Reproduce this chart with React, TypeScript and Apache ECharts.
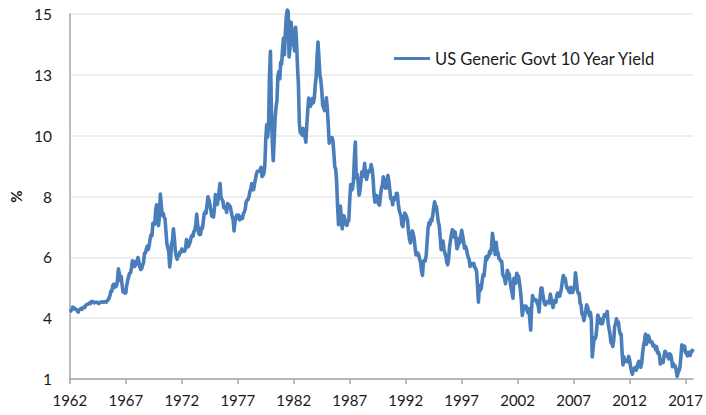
import React, { useEffect, useRef } from "react";
import * as echarts from "echarts";

// Monthly 10-year yield readings (%), first point at the "1962" tick, one point per month
const yields1962to1969 = [
  3.84, 3.87, 3.91, 4.01, 3.98, 3.98, 3.93, 3.92, 3.86,
  3.83, 3.92, 3.93, 3.97, 3.93, 3.99, 4.02, 4.0, 4.08, 4.11, 4.12, 4.13,
  4.17, 4.15, 4.22, 4.23, 4.2, 4.17, 4.19, 4.19, 4.2, 4.19, 4.15, 4.18,
  4.19, 4.21, 4.21, 4.2, 4.21, 4.21, 4.2, 4.25, 4.29, 4.35, 4.45, 4.62,
  4.61, 4.83, 4.87, 4.75, 4.78, 4.81, 5.02, 5.45, 5.3, 5.01, 5.16, 4.84,
  4.58, 4.63, 4.54, 4.55, 4.85, 5.02, 5.16, 5.28, 5.3, 5.48, 5.75, 5.7,
  5.53, 5.56, 5.74, 5.64, 5.87, 5.72, 5.5, 5.42, 5.46, 5.58, 5.7, 6.03,
  6.04, 6.19, 6.3, 6.17, 6.32, 6.57, 6.72, 6.69, 7.16, 7.1, 7.14, 7.65,
];
const yields1970s = [
  7.85, 7.24, 7.07, 7.39, 8.25, 7.84, 7.46, 7.53, 7.39, 7.33, 6.84, 6.39,
  6.24, 6.11, 5.52, 5.83, 6.39, 6.52, 6.95, 6.58, 6.14, 5.93, 5.81, 5.93,
  5.95, 6.08, 6.07, 6.19, 6.13, 6.11, 6.11, 6.21, 6.55, 6.48, 6.28, 6.36,
  6.46, 6.64, 6.71, 6.67, 6.85, 6.9, 7.13, 7.5, 7.09, 6.79, 6.73, 6.74,
  6.99, 6.96, 7.21, 7.51, 7.58, 7.54, 7.81, 8.15, 8.04, 7.9, 7.68, 7.43,
  7.5, 7.39, 7.73, 8.23, 8.06, 7.86, 8.06, 8.4, 8.65, 8.14, 8.05, 8.0,
  7.74, 7.79, 7.73, 7.56, 7.9, 7.86, 7.83, 7.77, 7.59, 7.41, 7.29, 6.87,
  7.21, 7.39, 7.46, 7.37, 7.46, 7.28, 7.33, 7.4, 7.34, 7.52, 7.58, 7.69,
  7.96, 8.03, 8.04, 8.15, 8.35, 8.46, 8.64, 8.41, 8.42, 8.64, 8.81, 9.01,
  9.1, 9.1, 9.12, 9.18, 9.25, 8.91, 8.95, 9.03, 9.33, 10.3, 10.85, 10.39,
];
const yields1980s = [
  10.8, 12.7, 13.6, 11.47, 10.18, 9.5, 10.25, 11.1, 11.51, 11.75, 12.68, 12.84,
  12.57, 13.19, 13.12, 13.68, 14.1, 13.47, 14.28, 14.9, 15.15, 15.1, 13.39, 13.72,
  14.7, 14.43, 13.86, 13.87, 13.62, 14.5, 13.95, 13.06, 12.34, 10.91, 10.55, 10.54,
  10.46, 10.72, 10.51, 10.4, 10.2, 10.85, 11.38, 11.85, 11.65, 11.54, 11.69, 11.83,
  11.67, 11.84, 12.32, 12.63, 13.41, 13.95, 13.36, 12.72, 12.52, 12.16, 11.57, 11.5,
  11.38, 11.51, 11.86, 11.43, 10.85, 10.16, 10.31, 10.33, 10.37, 10.24, 9.78, 9.26,
  9.19, 8.7, 7.78, 7.1, 7.71, 7.8, 7.3, 6.95, 7.45, 7.43, 7.25, 7.11,
  7.08, 7.25, 7.25, 8.02, 8.61, 8.4, 8.45, 8.76, 9.6, 10.2, 8.86, 8.99,
  8.67, 8.21, 8.37, 8.72, 9.09, 8.92, 9.06, 9.4, 8.98, 8.8, 8.96, 9.11,
  9.09, 9.17, 9.36, 9.18, 8.86, 8.28, 7.95, 8.11, 8.19, 8.01, 7.87, 7.84,
];
const yields1990s = [
  8.21, 8.47, 8.59, 8.9, 8.76, 8.48, 8.47, 8.75, 8.95, 8.72, 8.39, 8.08,
  8.09, 7.85, 8.11, 8.04, 8.07, 8.28, 8.27, 7.9, 7.65, 7.53, 7.42, 7.09,
  7.03, 7.34, 7.54, 7.48, 7.39, 7.26, 6.84, 6.59, 6.42, 6.59, 6.87, 6.77,
  6.6, 6.26, 5.98, 5.97, 6.04, 5.96, 5.81, 5.68, 5.36, 5.2, 5.72, 5.77,
  5.75, 5.97, 6.48, 6.97, 7.18, 7.1, 7.3, 7.24, 7.46, 7.74, 7.96, 7.81,
  7.78, 7.47, 7.2, 7.06, 6.63, 6.17, 6.28, 6.49, 6.2, 6.04, 5.93, 5.71,
  5.6, 5.81, 6.27, 6.51, 6.74, 6.91, 6.87, 6.64, 6.83, 6.53, 6.2, 6.3,
  6.58, 6.42, 6.69, 6.89, 6.71, 6.49, 6.22, 6.3, 6.21, 6.03, 5.88, 5.81,
  5.54, 5.57, 5.65, 5.64, 5.65, 5.5, 5.46, 5.34, 4.81, 4.2, 4.83, 4.65,
  4.72, 5.0, 5.23, 5.18, 5.54, 5.9, 5.79, 5.94, 5.92, 6.11, 6.03, 6.28,
];
const yields2000s = [
  6.78, 6.52, 6.26, 5.99, 6.44, 6.1, 6.05, 5.83, 5.8, 5.74, 5.72, 5.24,
  5.16, 5.1, 4.89, 5.14, 5.39, 5.28, 5.24, 4.97, 4.73, 4.57, 4.35, 5.09,
  5.04, 4.91, 5.28, 5.21, 5.16, 4.93, 4.65, 4.26, 3.7, 3.94, 4.05, 4.03,
  4.05, 3.9, 3.81, 3.96, 3.57, 3.15, 3.98, 4.45, 4.27, 4.29, 4.3, 4.27,
  4.15, 4.08, 3.83, 4.35, 4.72, 4.73, 4.5, 4.28, 4.13, 4.1, 4.19, 4.23,
  4.22, 4.17, 4.5, 4.34, 4.14, 4.0, 4.18, 4.26, 4.2, 4.46, 4.54, 4.47,
  4.42, 4.57, 4.72, 4.99, 5.2, 5.11, 5.09, 4.88, 4.72, 4.73, 4.6, 4.56,
  4.76, 4.72, 4.56, 4.69, 4.75, 5.3, 5.0, 4.67, 4.52, 4.53, 4.15, 4.1,
  3.74, 3.74, 3.51, 3.68, 3.88, 4.1, 4.01, 3.89, 3.69, 3.81, 3.53, 2.15,
  2.52, 2.87, 2.82, 2.93, 3.29, 3.72, 3.56, 3.59, 3.4, 3.39, 3.4, 3.59,
];
const yields2010s = [
  3.73, 3.69, 3.73, 3.85, 3.42, 3.2, 3.01, 2.7, 2.65, 2.54, 2.76, 3.29,
  3.39, 3.58, 3.41, 3.46, 3.17, 3.0, 3.0, 2.3, 1.85, 2.15, 2.01, 1.98,
  1.97, 1.97, 2.17, 2.05, 1.8, 1.62, 1.5, 1.68, 1.72, 1.75, 1.65, 1.72,
  1.91, 1.98, 1.96, 1.76, 1.93, 2.3, 2.58, 2.74, 3.0, 2.62, 2.72, 2.95,
  2.86, 2.71, 2.72, 2.71, 2.56, 2.6, 2.54, 2.42, 2.53, 2.3, 2.33, 2.21,
  1.88, 1.98, 2.04, 1.94, 2.2, 2.36, 2.32, 2.17, 2.17, 2.07, 2.26, 2.24,
  2.09, 1.78, 1.89, 1.81, 1.81, 1.64, 1.42, 1.56, 1.63, 1.76, 2.14, 2.6,
  2.43, 2.42, 2.55, 2.3, 2.3, 2.19, 2.32, 2.21, 2.2, 2.36, 2.35, 2.45,
];

const seriesName = "US Generic Govt 10 Year Yield";
const firstYear = 1962;
const yMin = 1.32;
const yMax = 15;
const yStep = 2.28;

const yields = [
  ...yields1962to1969,
  ...yields1970s,
  ...yields1980s,
  ...yields1990s,
  ...yields2000s,
  ...yields2010s,
];

// Monthly category names; the axis shows the year every 60 months
const months: string[] = yields.map((_, i) => {
  const y = firstYear + Math.floor(i / 12);
  const m = (i % 12) + 1;
  return `${y}-${m < 10 ? "0" + m : m}`;
});

const FONT = "Lato, 'Open Sans', sans-serif";

export default function App() {
  const ref = useRef<HTMLDivElement>(null);
  useEffect(() => {
    if (!ref.current) return;
    const chart = echarts.init(ref.current, null, { renderer: "svg" });
    chart.setOption({
      animation: false,
      backgroundColor: "#ffffff",
      textStyle: { fontFamily: FONT },
      grid: { left: 62, right: 13, top: 14, bottom: 36, containLabel: false },
      legend: {
        show: true,
        left: 389,
        top: 45,
        itemWidth: 36,
        itemHeight: 14,
        textStyle: { fontSize: 16.5, color: "#1a1a1a", fontFamily: FONT },
        data: [{ name: seriesName, icon: "path://M0,6 L36,6 L36,9 L0,9 Z" }],
      },
      xAxis: {
        type: "category",
        data: months,
        boundaryGap: false,
        axisLine: { lineStyle: { color: "#a6a6a6", width: 1.5 } },
        axisTick: {
          show: true,
          interval: 59,
          length: 5,
          lineStyle: { color: "#a6a6a6", width: 1.5 },
        },
        axisLabel: {
          interval: 59,
          fontSize: 15,
          color: "#1a1a1a",
          margin: 13,
          fontFamily: FONT,
          formatter: (v: string) => v.slice(0, 4),
        },
        splitLine: { show: false },
      },
      yAxis: {
        type: "value",
        min: yMin,
        max: yMax,
        interval: yStep,
        name: "%",
        nameLocation: "middle",
        nameGap: 42,
        nameTextStyle: { fontSize: 15, fontWeight: "bold", color: "#1a1a1a", fontFamily: FONT },
        axisLine: { show: true, lineStyle: { color: "#a6a6a6", width: 1.5 } },
        axisTick: { show: false },
        axisLabel: {
          fontSize: 15.5,
          color: "#1a1a1a",
          margin: 18,
          fontFamily: FONT,
          formatter: (v: number) => String(Math.round(v)),
        },
        splitLine: { show: true, lineStyle: { color: "#e8e8e8", width: 1.5 } },
      },
      series: [
        {
          name: seriesName,
          type: "line",
          data: yields,
          symbol: "none",
          showSymbol: false,
          clip: false,
          lineStyle: { color: "#4a7ebb", width: 3.6, join: "round" },
          itemStyle: { color: "#4a7ebb" },
        },
      ],
    });
    return () => chart.dispose();
  }, []);
  return (
    <div
      ref={ref}
      style={{ position: "fixed", left: 0, top: 0, width: 706, height: 415, background: "#fff" }}
    />
  );
}
